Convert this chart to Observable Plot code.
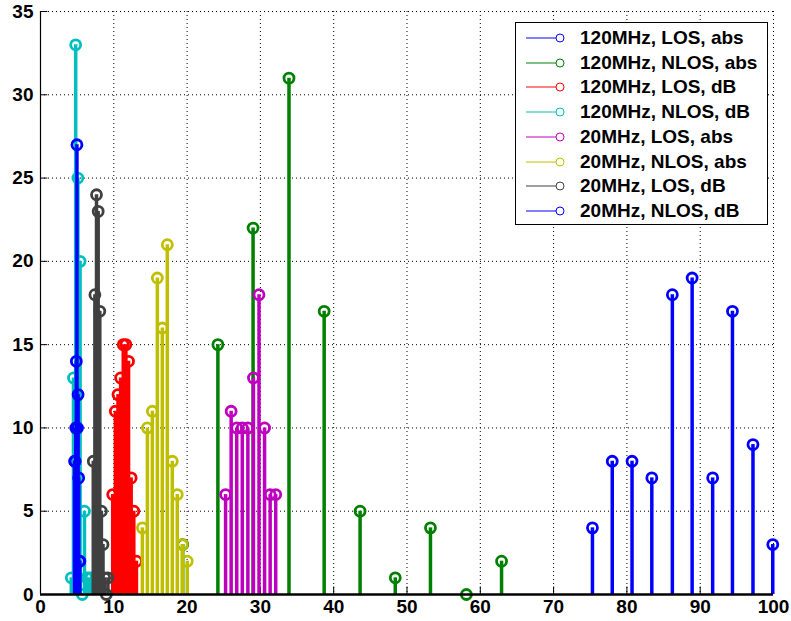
<!DOCTYPE html>
<html><head><meta charset="utf-8">
<script src="https://cdn.jsdelivr.net/npm/d3@7"></script>
<script src="https://cdn.jsdelivr.net/npm/@observablehq/plot@0.6"></script>
<style>
body{margin:0;background:#fff;}
#wrap{position:relative;width:791px;height:621px;overflow:hidden;}
#legend{position:absolute;left:515px;top:22px;width:253px;height:203px;border:1.5px solid #000;background:#fff;box-sizing:border-box;font:bold 19px "Liberation Sans",Arial,sans-serif;color:#000;}
.row{position:absolute;left:0;height:24px;display:flex;align-items:center;white-space:nowrap;}
.row svg{flex:none;}
.row span{margin-left:12px;}
</style></head><body>
<div id="wrap"><div id="chart"></div><div id="legend"></div></div>
<script>
// ---- data ----
const seriesLabels = ["120MHz, LOS, abs","120MHz, NLOS, abs","120MHz, LOS, dB","120MHz, NLOS, dB","20MHz, LOS, abs","20MHz, NLOS, abs","20MHz, LOS, dB","20MHz, NLOS, dB"];
const seriesColors = ["#0000ff","#008000","#ff0000","#00bfbf","#bf00bf","#bfbf00","#404040","#0000ff"];

const x120LosAbs = [75.3, 78.0, 80.7, 83.4, 86.2, 88.9, 91.7, 94.4, 97.2, 99.9];
const y120LosAbs = [4, 8, 8, 7, 18, 19, 7, 17, 9, 3];
const x120NlosAbs = [19.4, 24.2, 29.0, 33.9, 38.7, 43.6, 48.4, 53.2, 58.1, 62.9];
const y120NlosAbs = [3, 15, 22, 31, 17, 5, 1, 4, 0, 2];
const x120LosDb = [9.85, 10.21, 10.57, 10.93, 11.29, 11.65, 12.01, 12.37, 12.73, 13.09];
const y120LosDb = [6, 11, 12, 13, 15, 15, 14, 7, 5, 2];
const x120NlosDb = [4.2, 4.5, 4.8, 5.1, 5.4, 5.7, 6.0, 6.3, 6.6, 6.9];
const y120NlosDb = [1, 13, 33, 25, 20, 0, 5, 1, 1, 1];
const x20LosAbs = [25.25, 26.01, 26.77, 27.53, 28.29, 29.05, 29.81, 30.57, 31.33, 32.09];
const y20LosAbs = [6, 11, 10, 10, 10, 13, 18, 10, 6, 6];
const x20NlosAbs = [13.9, 14.58, 15.26, 15.94, 16.62, 17.3, 17.98, 18.66, 19.34, 20.02];
const y20NlosAbs = [4, 10, 11, 19, 16, 21, 8, 6, 3, 2];
const x20LosDb = [7.2, 7.42, 7.64, 7.87, 8.09, 8.31, 8.53, 8.76, 8.98, 9.2];
const y20LosDb = [8, 18, 24, 23, 17, 5, 3, 1, 0, 1];
const x20NlosDb = [4.65, 4.73, 4.81, 4.89, 4.97, 5.05, 5.13, 5.21, 5.29, 5.37];
const y20NlosDb = [8, 8, 10, 14, 27, 10, 12, 7, 2, 2];

const xTicks = [0, 10, 20, 30, 40, 50, 60, 70, 80, 90, 100];
const yTicks = [0, 5, 10, 15, 20, 25, 30, 35];

// ---- build ----
const xs = [x120LosAbs, x120NlosAbs, x120LosDb, x120NlosDb, x20LosAbs, x20NlosAbs, x20LosDb, x20NlosDb];
const ys = [y120LosAbs, y120NlosAbs, y120LosDb, y120NlosDb, y20LosAbs, y20NlosAbs, y20LosDb, y20NlosDb];
const series = xs.map((xv, i) => xv.map((x, j) => ({x, y: ys[i][j]})));

const stemMarks = series.flatMap((data, i) => [
  Plot.ruleX(data, {x: "x", y1: 0, y2: "y", stroke: seriesColors[i], strokeWidth: 3.5}),
  Plot.dot(data, {x: "x", y: "y", r: 5, stroke: seriesColors[i], strokeWidth: 2.8, fill: "none"})
]);

const chart = Plot.plot({
  width: 791,
  height: 621,
  marginLeft: 40,
  marginRight: 18,
  marginTop: 11,
  marginBottom: 27,
  style: {fontFamily: "'Liberation Sans', Arial, sans-serif", fontSize: "19px", fontWeight: "bold", color: "#000", background: "#fff", overflow: "visible"},
  x: {domain: [0, 100], label: null},
  y: {domain: [0, 35], label: null},
  marks: [
    Plot.gridX(xTicks.slice(1), {stroke: "#000", strokeOpacity: 1, strokeWidth: 1, strokeDasharray: "1,3"}),
    Plot.gridY(yTicks.slice(1), {stroke: "#000", strokeOpacity: 1, strokeWidth: 1, strokeDasharray: "1,3"}),
    Plot.axisX(xTicks, {tickSize: 0, tickPadding: 5, fontSize: 19, fontWeight: "bold"}),
    Plot.axisY(yTicks, {tickSize: 0, tickPadding: 7, fontSize: 19, fontWeight: "bold"}),
    Plot.ruleX(xTicks, {y1: 0, y2: 0.45, stroke: "#000", strokeWidth: 1}),
    Plot.ruleY(yTicks, {x1: 0, x2: 1.0, stroke: "#000", strokeWidth: 1}),
    Plot.ruleX([0], {stroke: "#000", strokeWidth: 1.2}),
    ...stemMarks,
    Plot.ruleY([0], {stroke: "#000", strokeWidth: 2.5})
  ]
});
document.getElementById("chart").append(chart);

// ---- legend ----
const legend = document.getElementById("legend");
const rowTops = [3, 28, 52, 77, 102, 127, 151, 176];
seriesLabels.forEach((lab, i) => {
  const row = document.createElement("div");
  row.className = "row";
  row.style.top = rowTops[i] + "px";
  const c = seriesColors[i];
  row.innerHTML = `<svg width="44" height="24" style="margin-left:8px"><line x1="2" y1="12" x2="32" y2="12" stroke="${c}" stroke-width="1"/><circle cx="36" cy="12" r="4" fill="none" stroke="${c}" stroke-width="1"/></svg><span>${lab}</span>`;
  legend.append(row);
});
</script>
</body></html>
